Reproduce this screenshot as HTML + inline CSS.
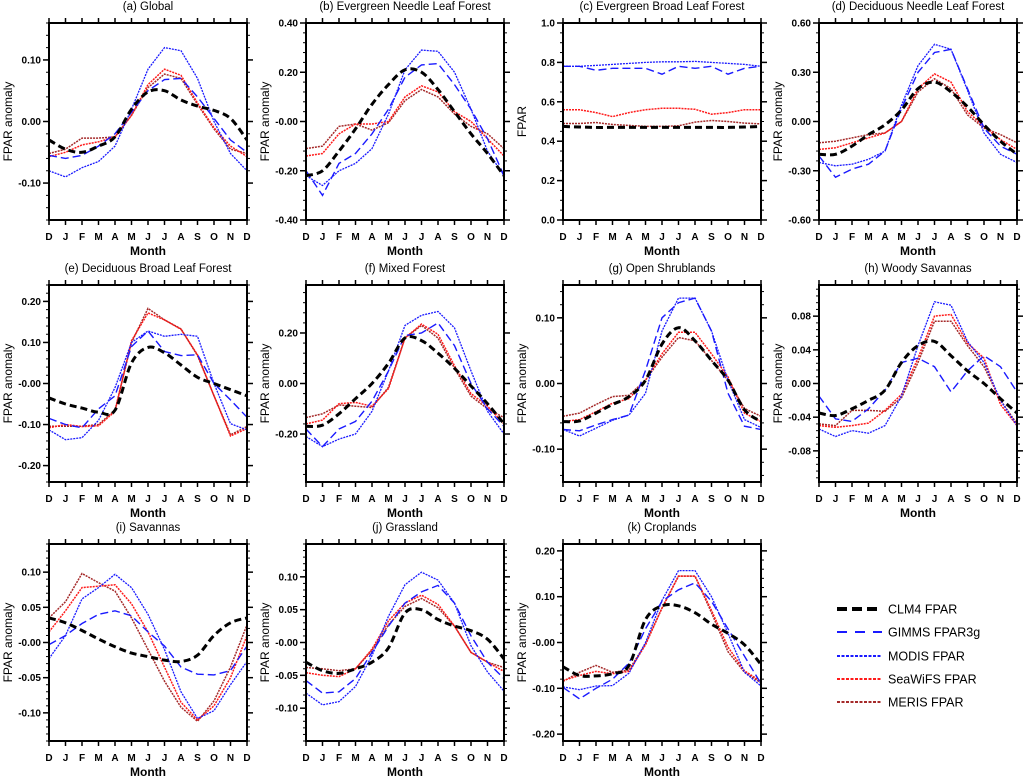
<!DOCTYPE html>
<html><head><meta charset="utf-8"><style>
html,body{margin:0;padding:0;background:#fff;}
svg{display:block;font-family:"Liberation Sans",Arial,sans-serif;}
</style></head><body>
<svg id="chart" width="1024" height="778" viewBox="0 0 1024 778" xmlns="http://www.w3.org/2000/svg"></svg>
<script>
const months = ["D","J","F","M","A","M","J","J","A","S","O","N","D"];
const titles = ["(a) Global","(b) Evergreen Needle Leaf Forest","(c) Evergreen Broad Leaf Forest","(d) Deciduous Needle Leaf Forest","(e) Deciduous Broad Leaf Forest","(f) Mixed Forest","(g) Open Shrublands","(h) Woody Savannas","(i) Savannas","(j) Grassland","(k) Croplands"];
const yLabels = ["FPAR anomaly","FPAR anomaly","FPAR","FPAR anomaly","FPAR anomaly","FPAR anomaly","FPAR anomaly","FPAR anomaly","FPAR anomaly","FPAR anomaly","FPAR anomaly"];
const yMin = [-0.16,-0.4,0,-0.6,-0.24,-0.39,-0.15,-0.117,-0.14,-0.15,-0.215];
const yMax = [0.16,0.4,1,0.6,0.24,0.39,0.15,0.117,0.14,0.15,0.215];
const yTicks = [[0.1,0,-0.1],[0.4,0.2,0,-0.2,-0.4],[0,0.2,0.4,0.6,0.8,1],[0.6,0.3,0,-0.3,-0.6],[0.2,0.1,0,-0.1,-0.2],[0.2,0,-0.2],[0.1,0,-0.1],[0.08,0.04,0,-0.04,-0.08],[0.1,0.05,0,-0.05,-0.1],[0.1,0.05,0,-0.05,-0.1],[0.2,0.1,0,-0.1,-0.2]];
const yTickLabels = [["0.10","0.00","-0.10"],["0.40","0.20","-0.00","-0.20","-0.40"],["0.0","0.2","0.4","0.6","0.8","1.0"],["0.60","0.30","0.00","-0.30","-0.60"],["0.20","0.10","-0.00","-0.10","-0.20"],["0.20","0.00","-0.20"],["0.10","0.00","-0.10"],["0.08","0.04","0.00","-0.04","-0.08"],["0.10","0.05","-0.00","-0.05","-0.10"],["0.10","0.05","-0.00","-0.05","-0.10"],["0.20","0.10","-0.00","-0.10","-0.20"]];
const minorStep = [0.02,0.04,0.05,0.06,0.02,0.04,0.02,0.008,0.01,0.01,0.02];
const clm = [
[-0.03,-0.045,-0.05,-0.04,-0.025,0.02,0.048,0.05,0.035,0.025,0.018,0.005,-0.03],
[-0.22,-0.2,-0.12,-0.03,0.07,0.15,0.21,0.2,0.13,0.04,-0.05,-0.13,-0.22],
[0.475,0.472,0.47,0.47,0.47,0.47,0.47,0.47,0.47,0.47,0.47,0.472,0.475],
[-0.2,-0.2,-0.15,-0.08,-0.02,0.07,0.2,0.24,0.18,0.09,-0.02,-0.12,-0.2],
[-0.035,-0.05,-0.06,-0.07,-0.065,0.05,0.088,0.075,0.045,0.015,0.0,-0.015,-0.03],
[-0.17,-0.165,-0.12,-0.06,0.0,0.08,0.18,0.17,0.12,0.06,-0.01,-0.08,-0.16],
[-0.058,-0.057,-0.045,-0.032,-0.02,0.005,0.06,0.085,0.065,0.035,0.005,-0.04,-0.058],
[-0.035,-0.038,-0.03,-0.02,-0.008,0.025,0.045,0.05,0.033,0.015,0.0,-0.018,-0.035],
[0.035,0.028,0.017,0.005,-0.006,-0.015,-0.02,-0.025,-0.027,-0.018,0.01,0.028,0.035],
[-0.03,-0.043,-0.047,-0.04,-0.03,-0.008,0.045,0.05,0.035,0.025,0.018,0.005,-0.025],
[-0.053,-0.072,-0.073,-0.068,-0.05,0.05,0.08,0.08,0.065,0.04,0.02,-0.005,-0.048]];
const gimms = [
[-0.055,-0.06,-0.055,-0.04,-0.02,0.015,0.05,0.068,0.07,0.04,0.005,-0.03,-0.05],
[-0.2,-0.3,-0.17,-0.13,-0.05,0.05,0.18,0.23,0.235,0.15,0.05,-0.07,-0.22],
[0.78,0.78,0.76,0.77,0.77,0.77,0.74,0.78,0.77,0.78,0.74,0.77,0.78],
[-0.21,-0.34,-0.29,-0.26,-0.18,0.08,0.3,0.42,0.44,0.2,-0.04,-0.15,-0.2],
[-0.085,-0.1,-0.108,-0.062,-0.03,0.09,0.128,0.078,0.068,0.07,0.0,-0.04,-0.082],
[-0.18,-0.25,-0.18,-0.15,-0.07,0.05,0.19,0.2,0.24,0.15,0.0,-0.1,-0.17],
[-0.07,-0.072,-0.063,-0.055,-0.048,0.02,0.1,0.123,0.13,0.08,-0.015,-0.065,-0.07],
[-0.015,-0.042,-0.045,-0.03,-0.008,0.025,0.03,0.02,-0.01,0.015,0.033,0.02,-0.01],
[-0.003,0.01,0.027,0.04,0.045,0.038,0.015,-0.005,-0.035,-0.045,-0.046,-0.04,-0.005],
[-0.058,-0.077,-0.075,-0.055,-0.015,0.025,0.06,0.077,0.087,0.06,0.01,-0.03,-0.055],
[-0.098,-0.123,-0.1,-0.08,-0.045,0.03,0.09,0.115,0.13,0.09,0.03,-0.03,-0.09]];
const modis = [
[-0.08,-0.09,-0.075,-0.065,-0.04,0.02,0.085,0.12,0.115,0.07,0.0,-0.052,-0.08],
[-0.22,-0.26,-0.2,-0.17,-0.11,0.03,0.21,0.29,0.285,0.2,0.05,-0.12,-0.22],
[0.78,0.78,0.785,0.79,0.795,0.8,0.803,0.803,0.805,0.8,0.795,0.79,0.78],
[-0.25,-0.27,-0.26,-0.23,-0.18,0.1,0.34,0.47,0.44,0.19,-0.07,-0.2,-0.25],
[-0.113,-0.137,-0.132,-0.09,-0.01,0.1,0.128,0.115,0.12,0.115,0.0,-0.098,-0.113],
[-0.21,-0.25,-0.22,-0.2,-0.11,0.05,0.23,0.27,0.285,0.22,0.05,-0.11,-0.2],
[-0.07,-0.08,-0.068,-0.056,-0.048,-0.015,0.08,0.13,0.13,0.08,0.005,-0.055,-0.067],
[-0.054,-0.063,-0.056,-0.059,-0.05,-0.015,0.045,0.097,0.093,0.05,0.025,-0.02,-0.05],
[-0.023,0.01,0.062,0.078,0.097,0.078,0.04,-0.01,-0.07,-0.108,-0.097,-0.06,-0.027],
[-0.077,-0.095,-0.09,-0.067,-0.02,0.04,0.088,0.107,0.095,0.06,-0.005,-0.045,-0.074],
[-0.097,-0.103,-0.095,-0.094,-0.067,0.0,0.092,0.157,0.157,0.1,0.02,-0.065,-0.095]];
const seawifs = [
[-0.057,-0.05,-0.038,-0.033,-0.025,0.01,0.06,0.085,0.075,0.03,-0.01,-0.04,-0.057],
[-0.14,-0.13,-0.05,-0.01,-0.01,0.0,0.1,0.145,0.12,0.04,-0.0,-0.07,-0.14],
[0.56,0.56,0.545,0.525,0.545,0.56,0.567,0.567,0.562,0.537,0.545,0.56,0.56],
[-0.17,-0.16,-0.13,-0.1,-0.07,0.0,0.2,0.29,0.24,0.06,-0.03,-0.11,-0.17],
[-0.108,-0.1,-0.105,-0.103,-0.068,0.104,0.172,0.155,0.132,0.07,-0.03,-0.128,-0.11],
[-0.16,-0.145,-0.08,-0.075,-0.09,-0.02,0.18,0.235,0.195,0.07,-0.04,-0.09,-0.16],
[-0.058,-0.055,-0.043,-0.03,-0.023,0.005,0.045,0.078,0.078,0.045,0.01,-0.045,-0.058],
[-0.05,-0.052,-0.05,-0.047,-0.032,-0.013,0.03,0.08,0.082,0.048,0.03,-0.025,-0.05],
[0.015,0.045,0.078,0.08,0.082,0.055,0.015,-0.035,-0.085,-0.11,-0.09,-0.05,0.01],
[-0.046,-0.05,-0.052,-0.04,-0.01,0.033,0.06,0.072,0.058,0.025,-0.015,-0.03,-0.044],
[-0.083,-0.072,-0.063,-0.068,-0.063,-0.005,0.075,0.145,0.145,0.07,-0.01,-0.062,-0.085]];
const meris = [
[-0.052,-0.045,-0.027,-0.027,-0.025,0.01,0.055,0.077,0.07,0.028,-0.012,-0.045,-0.052],
[-0.11,-0.1,-0.02,-0.01,-0.035,-0.005,0.085,0.13,0.1,0.03,-0.02,-0.05,-0.11],
[0.49,0.49,0.495,0.485,0.48,0.475,0.475,0.478,0.497,0.505,0.5,0.492,0.488],
[-0.13,-0.12,-0.1,-0.08,-0.07,0.0,0.18,0.26,0.2,0.04,-0.04,-0.08,-0.13],
[-0.104,-0.104,-0.104,-0.1,-0.065,0.1,0.183,0.155,0.133,0.068,-0.03,-0.125,-0.105],
[-0.135,-0.12,-0.085,-0.09,-0.095,-0.015,0.18,0.23,0.18,0.06,-0.05,-0.1,-0.135],
[-0.05,-0.045,-0.032,-0.02,-0.018,0.005,0.04,0.07,0.065,0.035,0.005,-0.038,-0.05],
[-0.048,-0.05,-0.032,-0.032,-0.033,-0.017,0.025,0.074,0.074,0.045,0.02,-0.02,-0.048],
[0.035,0.058,0.098,0.085,0.073,0.035,-0.01,-0.055,-0.092,-0.112,-0.083,-0.035,0.025],
[-0.038,-0.04,-0.043,-0.04,-0.012,0.027,0.055,0.067,0.053,0.025,-0.015,-0.03,-0.038],
[-0.085,-0.065,-0.05,-0.065,-0.06,-0.003,0.075,0.145,0.145,0.065,-0.02,-0.065,-0.088]];
const seriesNames = ["CLM4 FPAR","GIMMS FPAR3g","MODIS FPAR","SeaWiFS FPAR","MERIS FPAR"];

const NS = "http://www.w3.org/2000/svg";
const svg = document.getElementById("chart");
const styles = [
  {c:"#000",w:3,d:"7 4"},
  {c:"#1a1aff",w:1.4,d:"8 4"},
  {c:"#1a1aff",w:1.3,d:"2 1"},
  {c:"#ff1a1a",w:1.5,d:"2 1"},
  {c:"#a52a2a",w:1.5,d:"2 1"}];
const seriesData = [clm,gimms,modis,seawifs,meris];
const colX = [49,306,563,819], rowY = [23,285,544];
const W = 198, H = 197;
function mk(tag, attrs, parent){ const e=document.createElementNS(NS,tag); for(const k in attrs) e.setAttribute(k,attrs[k]); (parent||svg).appendChild(e); return e; }
function smoothPath(pts){
  let d="M"+pts[0][0].toFixed(1)+","+pts[0][1].toFixed(1);
  for(let i=0;i<pts.length-1;i++){
    const p0=pts[Math.max(0,i-1)],p1=pts[i],p2=pts[i+1],p3=pts[Math.min(pts.length-1,i+2)];
    const c1x=p1[0]+(p2[0]-p0[0])/6,c1y=p1[1]+(p2[1]-p0[1])/6;
    const c2x=p2[0]-(p3[0]-p1[0])/6,c2y=p2[1]-(p3[1]-p1[1])/6;
    d+=" C"+c1x.toFixed(1)+","+c1y.toFixed(1)+" "+c2x.toFixed(1)+","+c2y.toFixed(1)+" "+p2[0].toFixed(1)+","+p2[1].toFixed(1);
  }
  return d;
}

for(let p=0;p<titles.length;p++){
  const L=colX[p%4], T=rowY[Math.floor(p/4)], R=L+W, B=T+H;
  const g=mk("g",{});
  
  
  const xs=i=>L+i*W/(months.length-1);
  const ys=v=>B-(v-yMin[p])/(yMax[p]-yMin[p])*H;
  const t=mk("text",{x:(L+R)/2,y:T-13,"text-anchor":"middle","font-size":"11.5"},g); t.textContent=titles[p];
  
  
  months.forEach((m,i)=>{
    const x=xs(i);
    mk("line",{x1:x,y1:B,x2:x,y2:B+5,stroke:"#000","stroke-width":1.5},g);
    mk("line",{x1:x,y1:T,x2:x,y2:T-5,stroke:"#000","stroke-width":1.5},g);
    const tl=mk("text",{x:x,y:B+20,"text-anchor":"middle","font-size":"10","font-weight":"bold"},g); tl.textContent=m;
    
    
  });
  const st=minorStep[p];
  for(let v=Math.ceil(yMin[p]/st-1e-6)*st; v<=yMax[p]+1e-9; v+=st){
    const y=ys(v);
    mk("line",{x1:L,y1:y,x2:L-3,y2:y,stroke:"#000","stroke-width":1},g);
    mk("line",{x1:R,y1:y,x2:R+3,y2:y,stroke:"#000","stroke-width":1},g);
  }
  yTicks[p].forEach((v,k)=>{
    const y=ys(v);
    mk("line",{x1:L,y1:y,x2:L-6,y2:y,stroke:"#000","stroke-width":1.5},g);
    mk("line",{x1:R,y1:y,x2:R+6,y2:y,stroke:"#000","stroke-width":1.5},g);
    const tl=mk("text",{x:L-8,y:y+3.5,"text-anchor":"end","font-size":"10","font-weight":"bold"},g); tl.textContent=yTickLabels[p][k];
    
    
  });
  const xl=mk("text",{x:(L+R)/2,y:B+35,"text-anchor":"middle","font-size":"12","font-weight":"bold"},g); xl.textContent="Month";
  
  
  const yx=L-37, yy=(T+B)/2;
  const yl=mk("text",{x:yx,y:yy,"text-anchor":"middle","font-size":"12",transform:`rotate(-90 ${yx} ${yy})`},g); yl.textContent=yLabels[p];
  
  
  [4,3,2,1,0].forEach(s=>{
    const pts=seriesData[s][p].map((v,i)=>[xs(i),ys(v)]);
    const d = s===0 ? smoothPath(pts) : pts.map((q,i)=>(i?"L":"M")+q[0].toFixed(1)+","+q[1].toFixed(1)).join(" ");
    const path=mk("path",{d:d,fill:"none",stroke:styles[s].c,"stroke-width":styles[s].w,"stroke-dasharray":styles[s].d},g);
    
    
  });
  mk("rect",{x:L,y:T,width:W,height:H,fill:"none",stroke:"#000","stroke-width":2},g);
}
const lg=mk("g",{});


const legY=[609,632,656,679,702];
seriesNames.forEach((n,s)=>{
  const y=legY[s];
  mk("line",{x1:837,y1:y,x2:882,y2:y,stroke:styles[s].c,"stroke-width":s===0?4:2,"stroke-dasharray":s===0?"10 5":(s===1?"10 8":"3 1.5")},lg);
  const t=mk("text",{x:888,y:y+4.5,"font-size":"12.5"},lg); t.textContent=n;
  
  
});
</script>
</body></html>
